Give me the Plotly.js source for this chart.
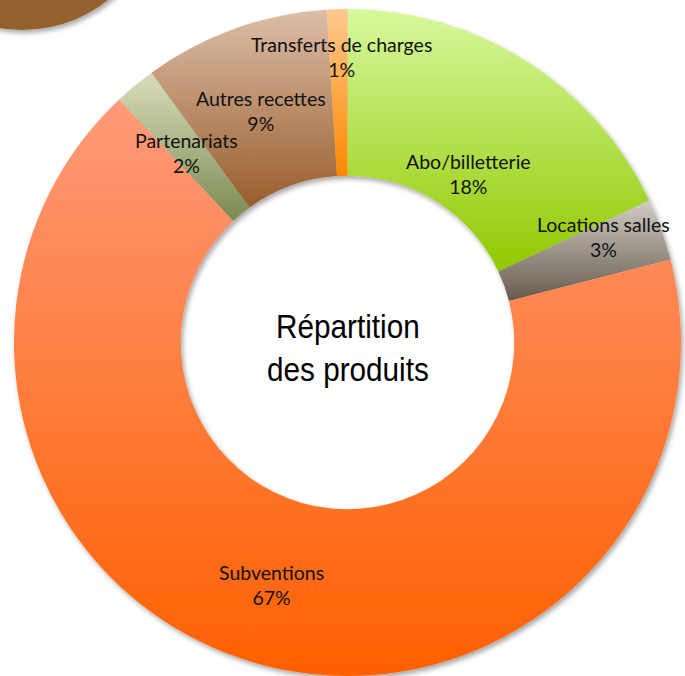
<!DOCTYPE html>
<html>
<head>
<meta charset="utf-8">
<script src="https://cdn.plot.ly/plotly-3.0.1.min.js"></script>
<style>
  html, body { margin: 0; padding: 0; background: #fff; }
  #chart { width: 685px; height: 676px; }
</style>
</head>
<body>
<div id="chart"></div>
<script>
// ---- data ----
const categories = ["Abo/billetterie", "Locations salles", "Subventions", "Partenariats", "Autres recettes", "Transferts de charges"];
const values = [18, 3, 67, 2, 9, 1];
const centerTitle = ["Répartition", "des produits"];

// ---- styling ----
const gradTop    = ["#d6f99e", "#d2cdc5", "#ff9a7a", "#d9deba", "#ddbea8", "#ffc990"];
const gradBottom = ["#92c800", "#665a4d", "#ff6000", "#7a8a52", "#985d2c", "#ff8800"];
const labelRadius = [208, 277, 254, 249, 248, 286];
const labelAngleShift = [3.1, -2.7, 1.2, -0.7, -0.6, 0.6];

const W = 685, H = 676;
const cx = 347.5, cy = 343;
const px2x = p => p / W;
const py2y = p => 1 - p / H;

const total = values.reduce((a, b) => a + b, 0);
let cum = 0;
const annotations = [];
values.forEach((v, i) => {
  const mid = (cum + v / 2) / total * 360 + labelAngleShift[i];
  cum += v;
  const a = mid * Math.PI / 180;
  const r = labelRadius[i];
  const pct = Math.round(v / total * 100) + "%";
  annotations.push({
    x: px2x(cx + r * Math.sin(a)),
    y: py2y(cy - r * Math.cos(a)),
    xref: "paper", yref: "paper",
    text: categories[i] + "<br>" + pct,
    showarrow: false, align: "center",
    xanchor: "center", yanchor: "middle",
    font: { family: "Lato, 'Noto Sans', sans-serif", size: 19.5, color: "#111" }
  });
});
annotations.push({
  x: px2x(cx), y: py2y(348),
  xref: "paper", yref: "paper",
  text: centerTitle.join("<br>"),
  showarrow: false, align: "center",
  xanchor: "center", yanchor: "middle",
  font: { family: "'Liberation Sans', Arial, sans-serif", size: 33, color: "#000" }
});

const trace = {
  type: "pie",
  labels: categories,
  values: values,
  sort: false,
  direction: "clockwise",
  rotation: 0,
  hole: 0.5,
  textinfo: "none",
  hoverinfo: "skip",
  marker: { colors: gradBottom, line: { width: 0 } },
  domain: { x: [(cx - 334) / W, (cx + 334) / W], y: [0, 667 / H] }
};

const layout = {
  width: W, height: H,
  margin: { l: 0, r: 0, t: 0, b: 0 },
  paper_bgcolor: "#fff",
  showlegend: false,
  annotations: annotations,
  shapes: [{
    type: "circle", xref: "paper", yref: "paper", layer: "below",
    x0: (22 - 139) / W, x1: (22 + 139) / W,
    y0: 1 - (-109 + 139) / H, y1: 1 - (-109 - 139) / H,
    fillcolor: "#93612f", line: { width: 0 }
  }]
};

Plotly.newPlot("chart", [trace], layout, { staticPlot: true }).then(() => {
  const svg = document.querySelector("#chart .main-svg");
  const NS = "http://www.w3.org/2000/svg";
  let defs = svg.querySelector("defs");
  if (!defs) { defs = document.createElementNS(NS, "defs"); svg.insertBefore(defs, svg.firstChild); }
  gradTop.forEach((c, i) => {
    const g = document.createElementNS(NS, "linearGradient");
    g.setAttribute("id", "sliceGrad" + i);
    g.setAttribute("x1", "0"); g.setAttribute("y1", "0");
    g.setAttribute("x2", "0"); g.setAttribute("y2", "1");
    const s1 = document.createElementNS(NS, "stop");
    s1.setAttribute("offset", "0"); s1.setAttribute("stop-color", c);
    const s2 = document.createElementNS(NS, "stop");
    s2.setAttribute("offset", "1"); s2.setAttribute("stop-color", gradBottom[i]);
    g.appendChild(s1); g.appendChild(s2);
    defs.appendChild(g);
  });
  const f = document.createElementNS(NS, "filter");
  f.setAttribute("id", "softShadow");
  f.setAttribute("x", "-10%"); f.setAttribute("y", "-10%");
  f.setAttribute("width", "120%"); f.setAttribute("height", "120%");
  const ds = document.createElementNS(NS, "feDropShadow");
  ds.setAttribute("dx", "2"); ds.setAttribute("dy", "3");
  ds.setAttribute("stdDeviation", "2.5");
  ds.setAttribute("flood-color", "#000"); ds.setAttribute("flood-opacity", "0.35");
  f.appendChild(ds);
  defs.appendChild(f);

  const slices = svg.querySelectorAll(".pielayer .slice path.surface");
  slices.forEach((p, i) => { p.style.fill = "url(#sliceGrad" + i + ")"; });
  const trg = svg.querySelector(".pielayer .trace");
  if (trg) trg.setAttribute("filter", "url(#softShadow)");
  const shp = svg.querySelector(".layer-below .shapelayer path");
  if (shp) shp.setAttribute("filter", "url(#softShadow)");

  // narrow the centre title horizontally (Arial Narrow look)
  const texts = document.querySelectorAll("#chart .annotation-text");
  const t = texts[texts.length - 1];
  if (t) {
    const bb = t.getBBox();
    const mx = bb.x + bb.width / 2;
    t.setAttribute("transform", "translate(" + mx + ",0) scale(0.9,1) translate(" + (-mx) + ",0)");
  }
});
</script>
</body>
</html>
